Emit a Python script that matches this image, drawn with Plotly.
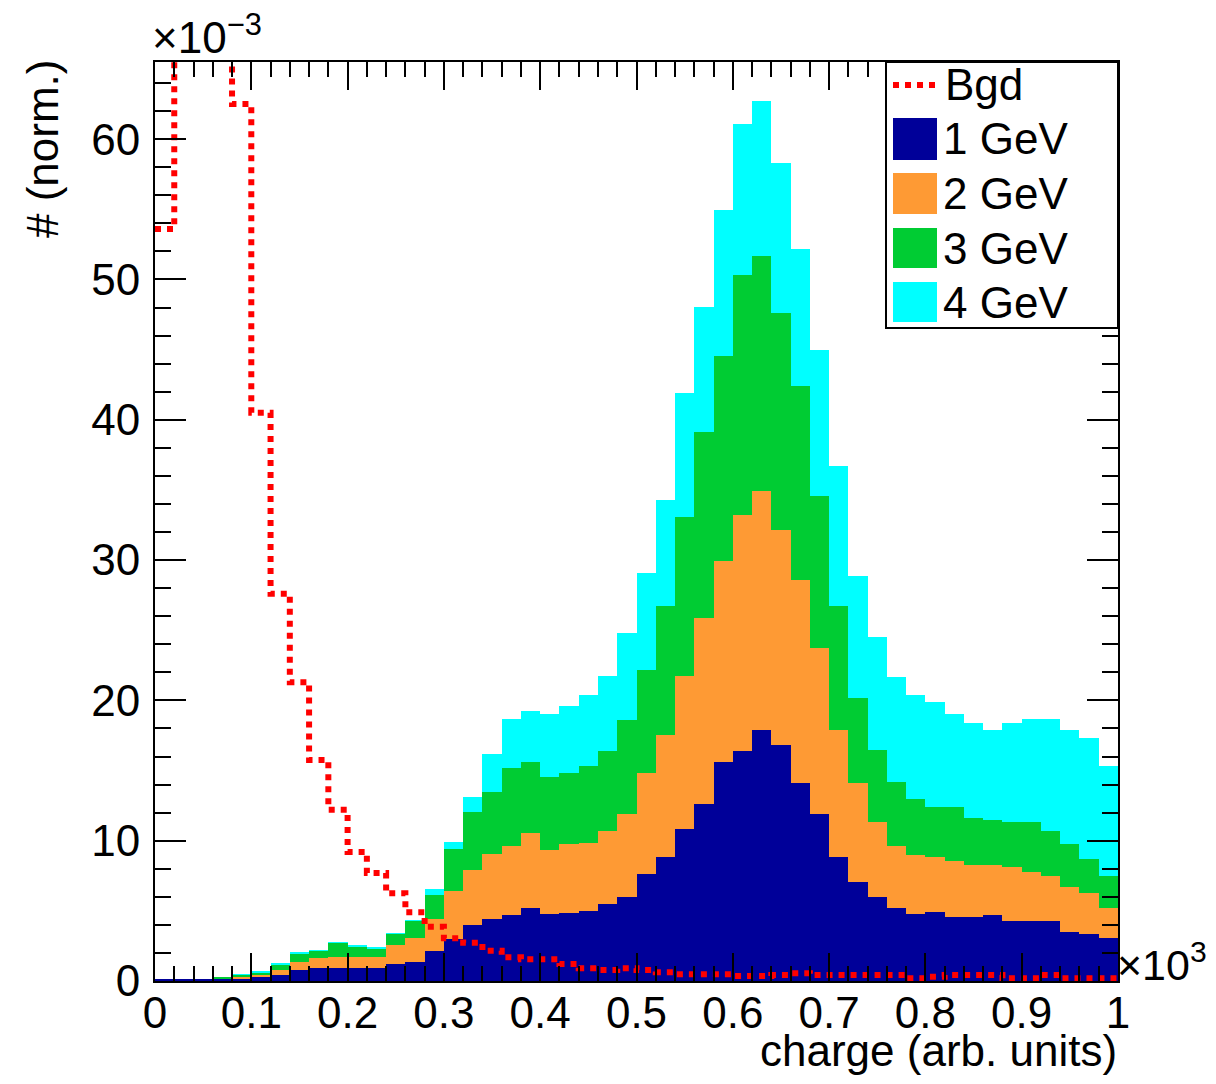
import plotly.graph_objects as go

# ---------------- data (values in units of 1e-3, charge bins of width 20) ----------------
bin_width = 20
bin_centers = [10 + 20 * i for i in range(50)]

gev1 = [0.15, 0.15, 0.15, 0.2, 0.2, 0.3, 0.43, 0.78, 0.9, 0.9,
        0.9, 0.9, 1.21, 1.38, 2.12, 3.0, 3.96, 4.45, 4.72, 5.19,
        4.78, 4.87, 5.01, 5.49, 5.97, 7.63, 8.84, 10.81, 12.64, 15.59,
        16.39, 17.9, 16.8, 14.1, 11.9, 8.86, 7.06, 5.96, 5.18, 4.75,
        4.9, 4.58, 4.58, 4.73, 4.28, 4.28, 4.28, 3.5, 3.35, 3.04]
gev2 = [0.0, 0.0, 0.0, 0.0, 0.05, 0.1, 0.35, 0.6, 0.72, 0.79,
        0.79, 0.79, 1.39, 1.67, 2.28, 3.43, 3.95, 4.62, 4.93, 5.37,
        4.56, 4.89, 4.85, 5.22, 5.93, 7.2, 8.72, 10.93, 13.21, 14.37,
        16.81, 17.0, 15.35, 14.5, 11.8, 9.04, 7.04, 5.34, 4.42, 4.25,
        3.96, 3.97, 3.67, 3.52, 3.82, 3.52, 3.22, 3.2, 2.9, 2.16]
gev3 = [0.0, 0.0, 0.0, 0.05, 0.18, 0.2, 0.43, 0.59, 0.52, 1.04,
        0.76, 0.64, 0.75, 1.23, 1.72, 2.97, 4.16, 4.38, 5.51, 5.03,
        5.18, 5.04, 5.44, 5.66, 6.72, 7.34, 9.19, 11.31, 13.3, 14.59,
        17.15, 16.8, 15.45, 13.8, 10.87, 8.85, 6.1, 5.2, 4.6, 4.0,
        3.54, 3.85, 3.35, 3.25, 3.2, 3.5, 3.2, 3.1, 2.45, 2.3]
gev4 = [0.0, 0.0, 0.0, 0.0, 0.02, 0.05, 0.04, 0.03, 0.06, 0.02,
        0.05, 0.12, 0.02, 0.02, 0.43, 0.53, 1.07, 2.75, 3.49, 3.68,
        4.48, 4.8, 5.06, 5.37, 6.16, 6.91, 7.53, 8.88, 8.91, 10.4,
        10.73, 11.05, 10.7, 9.8, 10.43, 9.95, 8.7, 8.0, 7.5, 7.4,
        7.5, 6.6, 6.8, 6.4, 7.1, 7.35, 7.95, 8.1, 8.6, 7.8]
bgd = [53.6, 80.0, 90.0, 75.0, 62.5, 40.5, 27.6, 21.3, 15.75, 12.2,
       9.2, 7.7, 6.25, 4.9, 3.87, 3.04, 2.73, 2.15, 1.7, 1.55,
       1.55, 1.21, 0.9, 0.78, 0.9, 0.78, 0.62, 0.48, 0.48, 0.48,
       0.35, 0.35, 0.43, 0.55, 0.43, 0.43, 0.43, 0.43, 0.43, 0.2,
       0.3, 0.43, 0.43, 0.43, 0.2, 0.2, 0.43, 0.2, 0.2, 0.2]

series_names = ["1 GeV", "2 GeV", "3 GeV", "4 GeV"]
series_values = [gev1, gev2, gev3, gev4]
series_colors = ["#000099", "#fe9a34", "#00cc33", "#00ffff"]

x_tick_vals = [0, 100, 200, 300, 400, 500, 600, 700, 800, 900, 1000]
x_tick_text = ["0", "0.1", "0.2", "0.3", "0.4", "0.5", "0.6", "0.7", "0.8", "0.9", "1"]
y_tick_vals = [0, 10, 20, 30, 40, 50, 60]

# ---------------- figure ----------------
# the page body has an 8px margin, so the figure is shrunk and margins are shifted
BODY = 8
W, H = 1216 - 2 * BODY, 1084 - 2 * BODY
PAGE_L, PAGE_T, PW, PH = 155, 62, 963, 919      # plot area in page pixels
ML, MT = PAGE_L - BODY, PAGE_T - BODY
MR, MB = W - ML - PW, H - MT - PH
FONT = "Liberation Sans, Arial, Helvetica, sans-serif"
FS = 44


def px(xp):
    return (xp - PAGE_L) / PW


def py(yp):
    return (PAGE_T + PH - yp) / PH


fig = go.Figure()
for name, vals, col in zip(series_names, series_values, series_colors):
    fig.add_trace(go.Bar(x=bin_centers, y=vals, width=bin_width, name=name,
                         marker=dict(color=col, line=dict(width=0)),
                         showlegend=False))

# background as a step histogram
edges = [c - bin_width / 2 for c in bin_centers] + [bin_centers[-1] + bin_width / 2]
fig.add_trace(go.Scatter(x=edges, y=bgd + [bgd[-1]], mode="lines", name="Bgd",
                         line=dict(color="#ff0000", width=6, dash="6px,6px", shape="hv"),
                         showlegend=False))

axis_common = dict(showline=True, linecolor="black", linewidth=2, mirror="allticks",
                   ticks="inside", tickcolor="black", tickwidth=2, showgrid=False,
                   zeroline=False, tickfont=dict(family=FONT, size=FS, color="black"))

fig.update_layout(
    width=W, height=H, margin=dict(l=ML, r=MR, t=MT, b=MB, autoexpand=False),
    paper_bgcolor="white", plot_bgcolor="white",
    barmode="stack", bargap=0,
    showlegend=False,
    xaxis=dict(range=[0, 1000], tickvals=x_tick_vals, ticktext=x_tick_text, ticklen=28,
               minor=dict(dtick=20, ticklen=15, tickwidth=2, tickcolor="black", ticks="inside"),
               ticklabelstandoff=-8, **axis_common),
    yaxis=dict(range=[0, 65.5], tickvals=y_tick_vals, ticklen=31,
               minor=dict(dtick=2, ticklen=16, tickwidth=2, tickcolor="black", ticks="inside"),
               ticklabelstandoff=4, **axis_common),
)

ann = []
ann.append(dict(text="# (norm.)", textangle=-90, x=px(42), y=py(149), xref="paper", yref="paper",
                xanchor="center", yanchor="middle", showarrow=False,
                font=dict(family=FONT, size=FS, color="black")))
ann.append(dict(text="charge (arb. units)", x=px(1119), y=py(1050), xref="paper", yref="paper",
                xanchor="right", yanchor="middle", showarrow=False,
                font=dict(family=FONT, size=FS, color="black")))
ann.append(dict(text="×10<sup>−3</sup>", x=px(150), y=py(34), xref="paper", yref="paper",
                xanchor="left", yanchor="middle", showarrow=False,
                font=dict(family=FONT, size=FS, color="black")))
ann.append(dict(text="×10<sup>3</sup>", x=px(1115), y=py(962), xref="paper", yref="paper",
                xanchor="left", yanchor="middle", showarrow=False,
                font=dict(family=FONT, size=FS - 1, color="black")))

# legend (drawn manually to match the large ROOT-style symbols)
shapes = []
shapes.append(dict(type="rect", xref="paper", yref="paper", x0=px(886), x1=px(1118),
                   y0=py(328), y1=py(62), line=dict(color="black", width=2),
                   fillcolor="white", layer="above"))
shapes.append(dict(type="line", xref="paper", yref="paper", x0=px(893), x1=px(937),
                   y0=py(85), y1=py(85), line=dict(color="#ff0000", width=6, dash="6px,6px"),
                   layer="above"))
ann.append(dict(text="Bgd", x=px(943), y=py(85), xref="paper", yref="paper",
                xanchor="left", yanchor="middle", showarrow=False,
                font=dict(family=FONT, size=FS, color="black")))
legend_rows = [(118, 160), (173, 214), (228, 268), (282, 322)]
for (ytop, ybot), name, col in zip(legend_rows, series_names, series_colors):
    shapes.append(dict(type="rect", xref="paper", yref="paper", x0=px(893), x1=px(937),
                       y0=py(ybot), y1=py(ytop), line=dict(width=0), fillcolor=col,
                       layer="above"))
    ann.append(dict(text=name, x=px(941), y=py((ytop + ybot) / 2), xref="paper", yref="paper",
                    xanchor="left", yanchor="middle", showarrow=False,
                    font=dict(family=FONT, size=FS, color="black")))

fig.update_layout(annotations=ann, shapes=shapes)
fig.write_html("out.html")
